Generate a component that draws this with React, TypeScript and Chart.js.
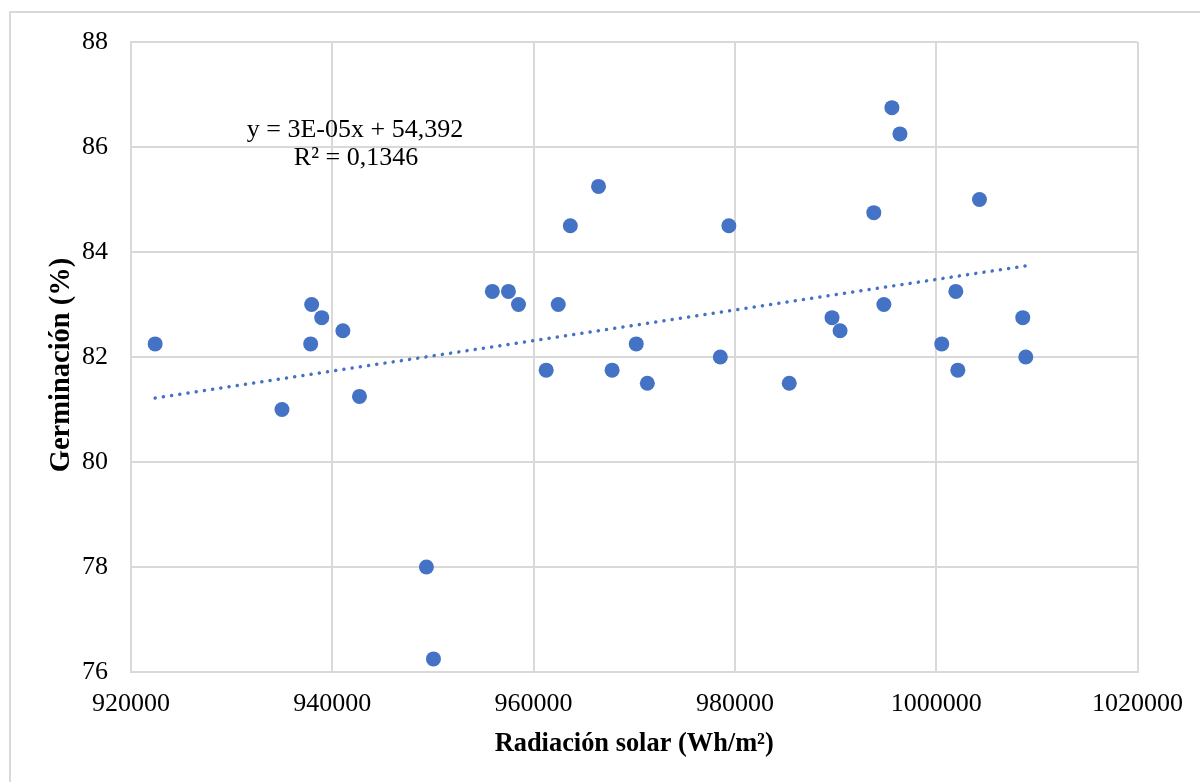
import React, { useEffect, useRef } from "react";
import { Chart, registerables } from "chart.js";

Chart.register(...registerables);

const radiacion: number[] = [
  922400, 935000, 937950, 937850, 938950, 941050, 942700, 949350, 950050,
  955900, 957500, 958500, 961250, 962450, 963650, 966450, 967800, 970200,
  971300, 978550, 979400, 985400, 989650, 990450, 993800, 994800, 995600,
  996400, 1000550, 1001950, 1002150, 1004300, 1008600, 1008900,
];
const germinacion: number[] = [
  82.25, 81.0, 83.0, 82.25, 82.75, 82.5, 81.25, 78.0, 76.25,
  83.25, 83.25, 83.0, 81.75, 83.0, 84.5, 85.25, 81.75, 82.25,
  81.5, 82.0, 84.5, 81.5, 82.75, 82.5, 84.75, 83.0, 86.75,
  86.25, 82.25, 83.25, 81.75, 85.0, 82.75, 82.0,
];
const xTicksMin = 920000;
const xTicksMax = 1020000;
const xStep = 20000;
const yTicksMin = 76;
const yTicksMax = 88;
const yStep = 2;
const equationLines: string[] = ["y = 3E-05x + 54,392", "R² = 0,1346"];
const xTitle = "Radiación solar (Wh/m²)";
const yTitle = "Germinación (%)";

const FONT = "'Liberation Serif', 'Times New Roman', serif";
const BLUE = "#4472C4";
const GRID = "#d9d9d9";

function regression(xs: number[], ys: number[]) {
  const n = xs.length;
  const mx = xs.reduce((a, b) => a + b, 0) / n;
  const my = ys.reduce((a, b) => a + b, 0) / n;
  let sxy = 0;
  let sxx = 0;
  for (let i = 0; i < n; i++) {
    sxy += (xs[i] - mx) * (ys[i] - my);
    sxx += (xs[i] - mx) * (xs[i] - mx);
  }
  const slope = sxy / sxx;
  return { slope, intercept: my - slope * mx };
}

export default function App() {
  const ref = useRef<HTMLCanvasElement>(null);

  useEffect(() => {
    document.body.style.margin = "0";
    const canvas = ref.current;
    if (!canvas) return;
    const { slope, intercept } = regression(radiacion, germinacion);
    const xMin = Math.min(...radiacion);
    const xMax = Math.max(...radiacion);
    const trend = [
      { x: xMin, y: slope * xMin + intercept },
      { x: xMax, y: slope * xMax + intercept },
    ];
    const points = radiacion.map((x, i) => ({ x, y: germinacion[i] }));

    const framePlugin = {
      id: "frame",
      beforeDraw(chart: any) {
        const ctx = chart.ctx;
        ctx.save();
        ctx.strokeStyle = GRID;
        ctx.lineWidth = 2;
        ctx.strokeRect(10, 12, 1300, 900);
        ctx.restore();
      },
      afterDatasetsDraw(chart: any) {
        const ctx = chart.ctx;
        ctx.save();
        ctx.fillStyle = "#000";
        ctx.font = `26px ${FONT}`;
        ctx.textAlign = "center";
        ctx.textBaseline = "alphabetic";
        ctx.fillText(equationLines[0], 355, 137);
        ctx.fillText(equationLines[1], 356, 165);
        ctx.restore();
        // y axis title
        ctx.save();
        ctx.translate(62, 365);
        ctx.rotate(-Math.PI / 2);
        ctx.fillStyle = "#000";
        ctx.font = `bold 28.5px ${FONT}`;
        ctx.textAlign = "center";
        ctx.textBaseline = "middle";
        ctx.fillText(yTitle, 0, 0);
        ctx.restore();
      },
    };

    const chart = new Chart(canvas, {
      type: "scatter",
      data: {
        datasets: [
          {
            type: "line",
            data: trend,
            borderColor: BLUE,
            borderWidth: 3.5,
            borderDash: [0.1, 8.2],
            borderCapStyle: "round",
            pointRadius: 0,
            fill: false,
            order: 2,
          } as any,
          {
            data: points,
            backgroundColor: BLUE,
            borderWidth: 0,
            pointRadius: 7.5,
            pointHoverRadius: 7.5,
            order: 1,
          },
        ],
      },
      plugins: [framePlugin],
      options: {
        animation: false,
        responsive: false,
        events: [],
        layout: { padding: { left: 0, top: 42, right: 62, bottom: 0 } },
        plugins: { legend: { display: false }, tooltip: { enabled: false } },
        scales: {
          x: {
            type: "linear",
            min: xTicksMin,
            max: xTicksMax,
            ticks: {
              stepSize: xStep,
              color: "#000",
              font: { family: FONT, size: 26 },
              padding: 17,
              callback: (v: any) => String(v),
            },
            grid: { color: GRID, lineWidth: 2, drawTicks: false, tickLength: 0 },
            border: { color: GRID, width: 2 },
            title: {
              display: true,
              text: xTitle,
              color: "#000",
              font: { family: FONT, size: 26.4, weight: "bold" },
              padding: { top: 0, bottom: 22 },
            },
            afterFit: (s: any) => {
              s.height = 110;
            },
          },
          y: {
            type: "linear",
            min: yTicksMin,
            max: yTicksMax,
            ticks: {
              stepSize: yStep,
              color: "#000",
              font: { family: FONT, size: 26 },
              padding: 23,
              callback: (v: any) => String(v),
            },
            grid: { color: GRID, lineWidth: 2, drawTicks: false, tickLength: 0 },
            border: { color: GRID, width: 2 },
            title: { display: false },
            afterFit: (s: any) => {
              s.width = 131;
            },
          },
        },
      },
    });
    return () => chart.destroy();
  }, []);

  return (
    <div style={{ width: 1200, height: 782, overflow: "hidden", position: "relative" }}>
      <canvas ref={ref} width={1200} height={782} style={{ display: "block" }} />
    </div>
  );
}
